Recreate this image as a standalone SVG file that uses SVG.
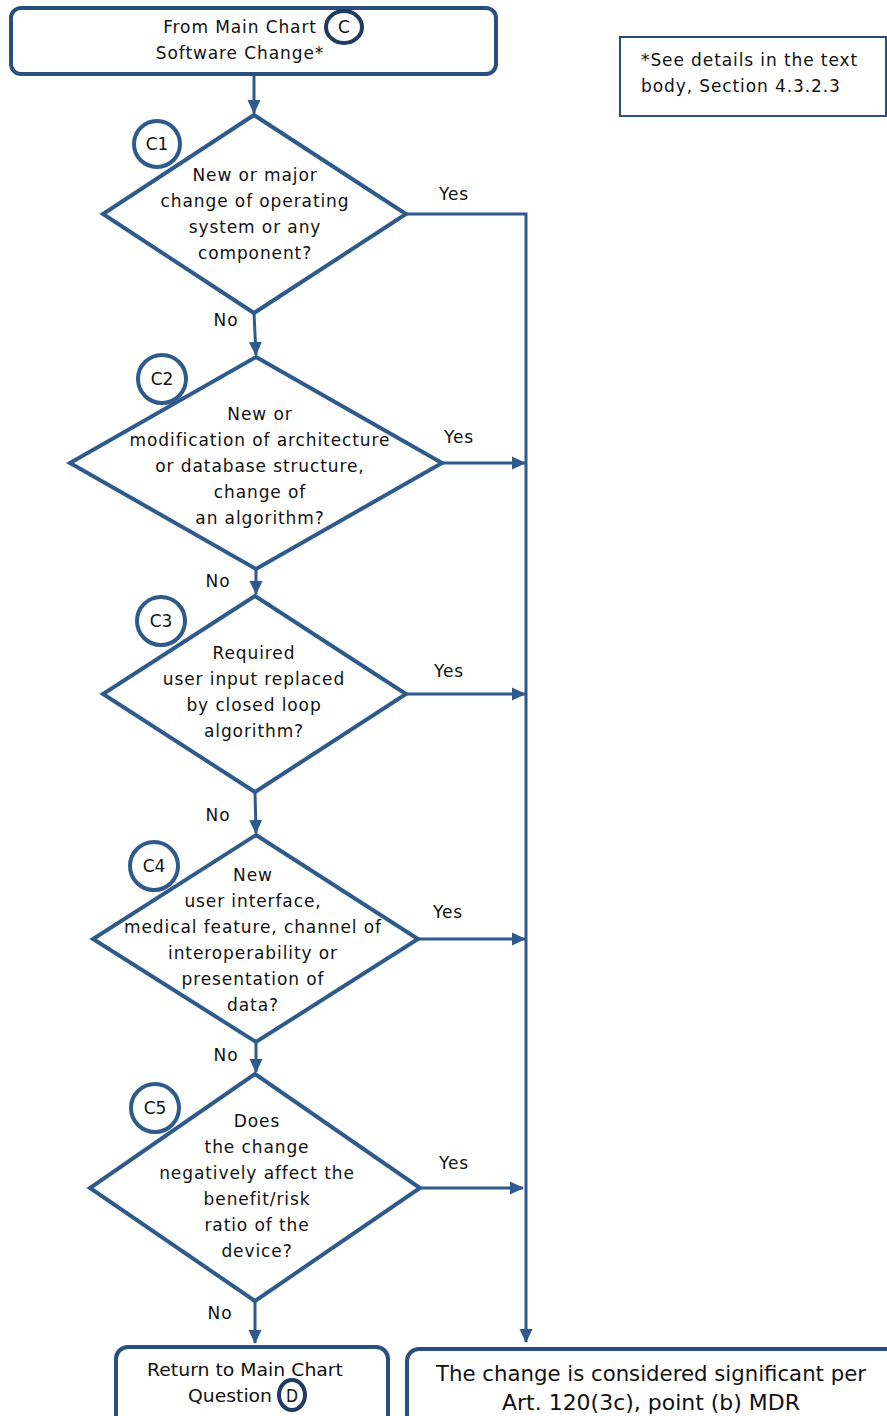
<svg xmlns="http://www.w3.org/2000/svg" width="887" height="1416" viewBox="0 0 887 1416">
<defs>
<marker id="ah" markerWidth="14" markerHeight="14" refX="13" refY="7" orient="auto" markerUnits="userSpaceOnUse">
<path d="M0,0.5 L14,7 L0,13.5 Z" fill="#2E5A8C"/>
</marker>
<style>
text{font-family:"DejaVu Sans","Verdana",sans-serif;font-size:17px;fill:#111;text-anchor:middle;letter-spacing:0.9px}
.box{fill:#fff;stroke:#2B4E80;stroke-width:4}
.dia{fill:#fff;stroke:#2E5A8C;stroke-width:4;stroke-linejoin:miter}
.cir{fill:#fff;stroke:#2E5A8C;stroke-width:4}
.dk{fill:#fff;stroke:#1F3A64;stroke-width:4}
.con{fill:none;stroke:#2E5A8C;stroke-width:3}
.sq{letter-spacing:0}
</style>
</defs>
<g id="connectors">
<line class="con" x1="254" y1="74" x2="254" y2="113" marker-end="url(#ah)"/>
<polyline class="con" points="406,214 526,214 526,1342" marker-end="url(#ah)"/>
<line class="con" x1="254" y1="313" x2="256" y2="355" marker-end="url(#ah)"/>
<line class="con" x1="442" y1="463" x2="525" y2="463" marker-end="url(#ah)"/>
<line class="con" x1="256" y1="569" x2="256" y2="594" marker-end="url(#ah)"/>
<line class="con" x1="406" y1="694" x2="525" y2="694" marker-end="url(#ah)"/>
<line class="con" x1="255" y1="792" x2="256" y2="833" marker-end="url(#ah)"/>
<line class="con" x1="418" y1="939" x2="525" y2="939" marker-end="url(#ah)"/>
<line class="con" x1="256" y1="1042" x2="256" y2="1072" marker-end="url(#ah)"/>
<line class="con" x1="420" y1="1188" x2="523" y2="1188" marker-end="url(#ah)"/>
<line class="con" x1="255" y1="1301" x2="255" y2="1343" marker-end="url(#ah)"/>
<text x="454" y="200">Yes</text>
<text x="226" y="326">No</text>
<text x="459" y="443">Yes</text>
<text x="218" y="587">No</text>
<text x="449" y="677">Yes</text>
<text x="218" y="821">No</text>
<text x="448" y="918">Yes</text>
<text x="226" y="1061">No</text>
<text x="454" y="1169">Yes</text>
<text x="220" y="1319">No</text>
</g>
<g id="start">
<rect class="box" x="11" y="8" width="485" height="66" rx="10"/>
<text x="240" y="33">From Main Chart</text>
<ellipse class="dk" cx="344" cy="27" rx="18" ry="16"/>
<text x="344" y="33" class="sq">C</text>
<text x="240" y="59">Software Change*</text>
</g>
<g id="note">
<rect x="620" y="37" width="266" height="79" fill="#fff" stroke="#2B4E80" stroke-width="2"/>
<text x="641" y="66" style="text-anchor:start">*See details in the text</text>
<text x="641" y="92" style="text-anchor:start">body, Section 4.3.2.3</text>
</g>
<g id="C1">
<polygon class="dia" points="254,115 406,214 254,313 103,214"/>
<circle class="cir" cx="157" cy="144" r="23"/>
<text x="157" y="150" class="sq">C1</text>
<text x="255" y="181">New or major</text>
<text x="255" y="207">change of operating</text>
<text x="255" y="233">system or any</text>
<text x="255" y="259">component?</text>
</g>
<g id="C2">
<polygon class="dia" points="256,357 442,463 256,569 70,463"/>
<circle class="cir" cx="162" cy="379" r="24"/>
<text x="162" y="385" class="sq">C2</text>
<text x="260" y="420">New or</text>
<text x="260" y="446">modification of architecture</text>
<text x="260" y="472">or database structure,</text>
<text x="260" y="498">change of</text>
<text x="260" y="524">an algorithm?</text>
</g>
<g id="C3">
<polygon class="dia" points="255,596 406,694 255,792 103,694"/>
<circle class="cir" cx="161" cy="621" r="24"/>
<text x="161" y="627" class="sq">C3</text>
<text x="254" y="659">Required</text>
<text x="254" y="685">user input replaced</text>
<text x="254" y="711">by closed loop</text>
<text x="254" y="737">algorithm?</text>
</g>
<g id="C4">
<polygon class="dia" points="256,835 418,939 256,1042 93,939"/>
<circle class="cir" cx="154" cy="866" r="24"/>
<text x="154" y="872" class="sq">C4</text>
<text x="253" y="881">New</text>
<text x="253" y="907">user interface,</text>
<text x="253" y="933">medical feature, channel of</text>
<text x="253" y="959">interoperability or</text>
<text x="253" y="985">presentation of</text>
<text x="253" y="1011">data?</text>
</g>
<g id="C5">
<polygon class="dia" points="255,1074 420,1188 255,1301 90,1188"/>
<circle class="cir" cx="155" cy="1108" r="24"/>
<text x="155" y="1114" class="sq">C5</text>
<text x="257" y="1127">Does</text>
<text x="257" y="1153">the change</text>
<text x="257" y="1179">negatively affect the</text>
<text x="257" y="1205">benefit/risk</text>
<text x="257" y="1231">ratio of the</text>
<text x="257" y="1257">device?</text>
</g>
<g id="return">
<rect class="box" x="116" y="1347" width="272" height="90" rx="12"/>
<text x="245" y="1376" class="sq" style="font-size:18px" textLength="196" lengthAdjust="spacingAndGlyphs">Return to Main Chart</text>
<text x="230" y="1402" class="sq" style="font-size:18px" textLength="84" lengthAdjust="spacingAndGlyphs">Question</text>
<ellipse class="dk" cx="292" cy="1395" rx="13" ry="15"/>
<text x="292" y="1402" class="sq" style="font-size:18px" textLength="12" lengthAdjust="spacingAndGlyphs">D</text>
</g>
<g id="significant">
<rect class="box" x="407" y="1349" width="500" height="90" rx="12"/>
<text x="651" y="1381" class="sq" style="font-size:21px" textLength="430" lengthAdjust="spacingAndGlyphs">The change is considered significant per</text>
<text x="651" y="1410" class="sq" style="font-size:21px" textLength="298" lengthAdjust="spacingAndGlyphs">Art. 120(3c), point (b) MDR</text>
</g>
</svg>
